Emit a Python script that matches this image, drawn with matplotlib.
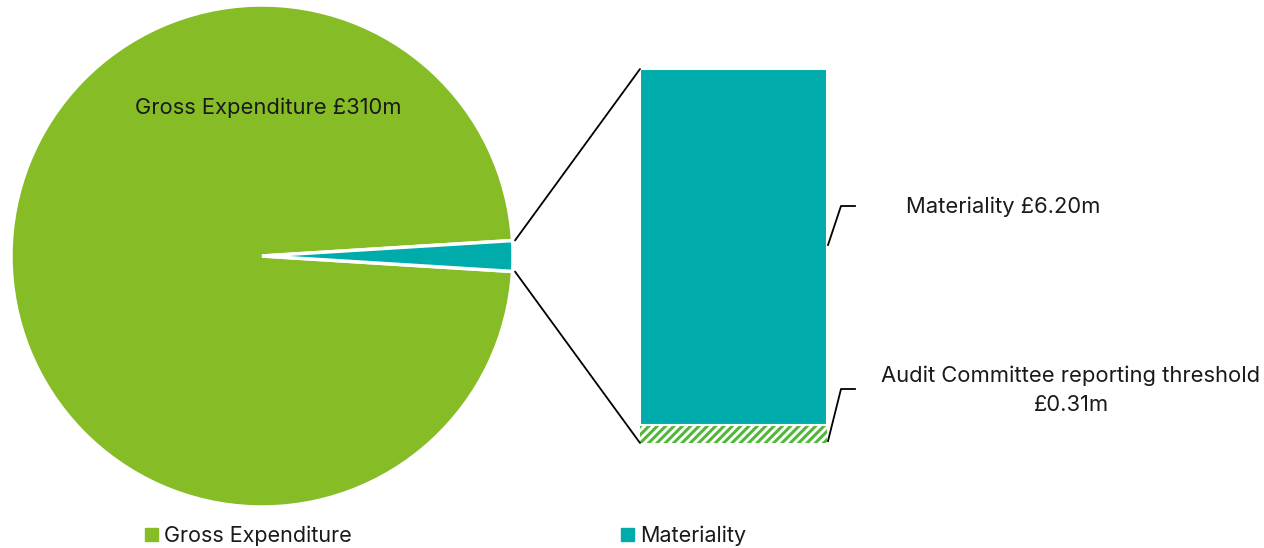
import matplotlib.pyplot as plt
from matplotlib.patches import ConnectionPatch, Patch
from matplotlib.lines import Line2D
import numpy as np

plt.rcParams['font.family'] = ['Inter', 'DejaVu Sans']
plt.rcParams['hatch.linewidth'] = 2.2

# data
pie_labels = ['Gross Expenditure', 'Materiality']
pie_values = [310.0, 6.20]
bar_labels = ['Audit Committee reporting threshold', 'Materiality']
bar_values = [0.31, 6.20]

green = '#86BC25'
teal = '#00ABAB'
hatch_green = '#52B83A'
txt = '#1a1a1a'
fs = 15.8

W, H = 1264, 548
fig = plt.figure(figsize=(W / 100, H / 100), dpi=100)


def fx(x):
    return x / W


def fy(y):
    return 1 - y / H


# pie
cx, cy, r = 262, 256, 251
ax_pie = fig.add_axes([fx(cx - r), fy(cy + r), 2 * r / W, 2 * r / H])
slice_deg = 360 * pie_values[1] / sum(pie_values)
start = slice_deg / 2
wedges, _ = ax_pie.pie(pie_values, colors=[green, teal], startangle=start,
                       counterclock=True,
                       wedgeprops=dict(edgecolor='white', linewidth=2.5))
ax_pie.set_xlim(-1, 1)
ax_pie.set_ylim(-1, 1)
ax_pie.text(0.025, 0.59, 'Gross Expenditure £310m', ha='center', va='center',
            fontsize=fs, color=txt)

# bar
ax_bar = fig.add_axes([fx(640), fy(443), 187 / W, 374 / H])
ax_bar.bar(0, bar_values[0], width=1, color='white', edgecolor=hatch_green,
           linewidth=0, hatch='////')
ax_bar.bar(0, bar_values[1], width=1, bottom=bar_values[0], color=teal,
           edgecolor='white', linewidth=1.5)
ax_bar.set_xlim(-0.5, 0.5)
ax_bar.set_ylim(0, sum(bar_values))
ax_bar.axis('off')

# connection lines pie -> bar
a = np.radians(slice_deg / 2)
for sgn, yb in [(1, 1), (-1, 0)]:
    con = ConnectionPatch(xyA=(np.cos(a) * 1.01, sgn * np.sin(a) * 1.01), coordsA=ax_pie.transData,
                          xyB=(0, yb), coordsB=ax_bar.transAxes,
                          color='black', linewidth=1.3)
    fig.add_artist(con)

# leader lines and labels
for pts in [[(828, 245), (841, 206), (855, 206)],
            [(828, 441), (841, 389), (855, 389)]]:
    xs = [fx(p[0]) for p in pts]
    ys = [fy(p[1]) for p in pts]
    fig.add_artist(Line2D(xs, ys, color='black', linewidth=1.3,
                          transform=fig.transFigure))

fig.text(fx(1003), fy(207), 'Materiality £6.20m', ha='center', va='center',
         fontsize=fs, color=txt)
fig.text(fx(1071), fy(376), 'Audit Committee reporting threshold', ha='center',
         va='center', fontsize=fs, color=txt)
fig.text(fx(1071), fy(405), '£0.31m', ha='center', va='center',
         fontsize=fs, color=txt)

# legend
handles = [Patch(color=green), Patch(color=teal)]
fig.legend(handles, pie_labels, loc='center left',
           bbox_to_anchor=(fx(134), fy(536)), ncol=2, frameon=False,
           fontsize=15.5, handlelength=0.6, handleheight=0.6,
           handletextpad=0.3, columnspacing=12.5, borderpad=0,
           labelcolor=txt)

fig.savefig('out.png', dpi=100, facecolor='white')
